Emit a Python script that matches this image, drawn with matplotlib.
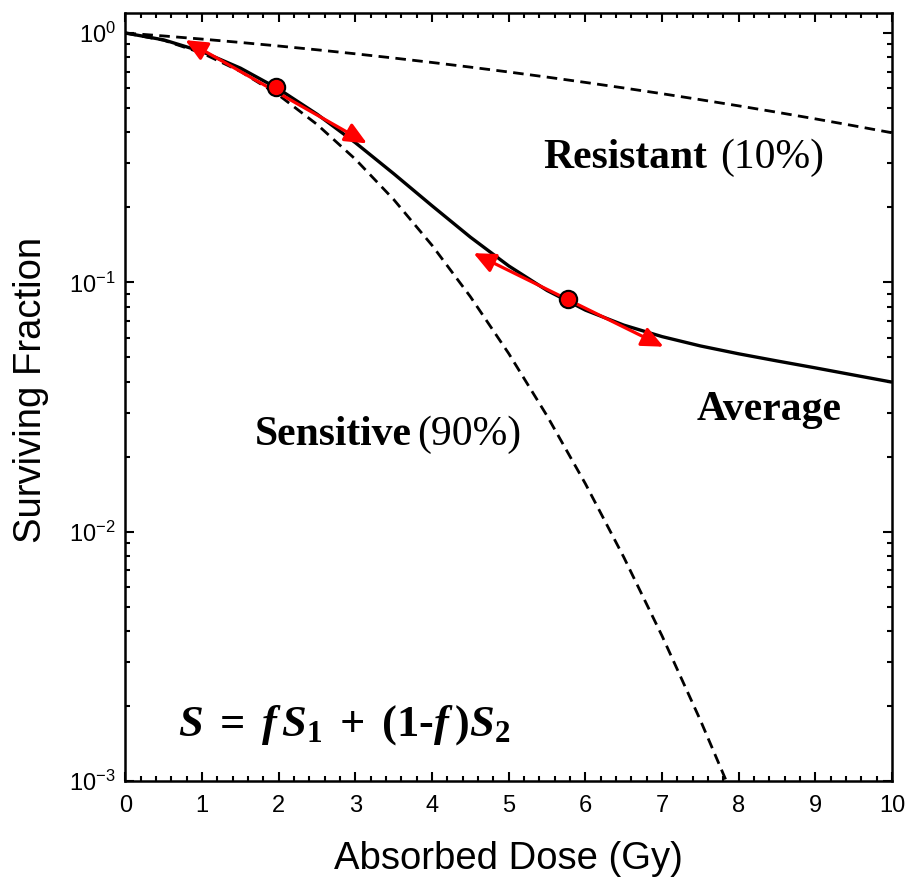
import numpy as np
import matplotlib
matplotlib.use("Agg")
import matplotlib.pyplot as plt
from matplotlib.ticker import MultipleLocator, LogLocator, NullFormatter

plt.rcParams["font.family"] = ["Liberation Sans", "DejaVu Sans"]
plt.rcParams["axes.unicode_minus"] = False
plt.rcParams["xtick.labelsize"] = 17
plt.rcParams["ytick.labelsize"] = 17
plt.rcParams["mathtext.fontset"] = "custom"
plt.rcParams["mathtext.rm"] = "Liberation Serif:bold"
plt.rcParams["mathtext.bf"] = "Liberation Serif:bold"
plt.rcParams["mathtext.it"] = "Liberation Serif:italic:bold"
plt.rcParams["mathtext.bfit"] = "Liberation Serif:italic:bold"

# dose grid (Gy) and surviving fractions
dose = [0.0, 0.5, 1.0, 1.5, 2.0, 2.5, 3.0, 3.5, 4.0, 4.5, 5.0,
        5.5, 6.0, 6.5, 7.0, 7.5, 8.0, 8.5, 9.0, 9.5, 10.0]
resistant = [1.0, 0.9735, 0.9457, 0.9169, 0.8872, 0.8567, 0.8256, 0.7940,
             0.7621, 0.7300, 0.6979, 0.6658, 0.6339, 0.6023, 0.5712,
             0.5405, 0.5105, 0.4812, 0.4527, 0.4249, 0.3981]
sens_dose = [0.0, 0.5, 1.0, 1.5, 2.0, 2.5, 3.0, 3.5, 4.0,
             4.5, 5.0, 5.5, 6.0, 6.5, 7.0, 7.5, 8.0]
sensitive = [1.0, 0.9350, 0.8309, 0.7018, 0.5634, 0.4298, 0.3117, 0.2148,
             0.1407, 0.08757, 0.05182, 0.02914, 0.01557, 0.00791,
             0.003819, 0.001753, 0.000764]
average = [1.0, 0.9389, 0.8424, 0.7233, 0.5958, 0.4725, 0.3631, 0.2727,
           0.2028, 0.1518, 0.1164, 0.0928, 0.0774, 0.0674, 0.0606,
           0.0556, 0.0517, 0.0484, 0.0454, 0.0425, 0.0398]

# tangent points on the average curve and the arrow ends around them
point_dose = [1.96, 5.77]
point_sf = [0.605, 0.0855]
arrow_start = [(0.78, 0.937), (4.54, 0.131)]
arrow_end = [(3.15, 0.361), (7.02, 0.0552)]

fig = plt.figure(figsize=(9.08, 8.82), dpi=100)
ax = fig.add_axes([0.1382, 0.1145, 0.8442, 0.8704])

ax.plot(dose, resistant, color="black", lw=2.0, dashes=(3.8, 2.3))
ax.plot(sens_dose, sensitive, color="black", lw=2.0, dashes=(3.8, 2.3))
ax.plot(dose, average, color="black", lw=2.4, solid_capstyle="butt")

for (x0, y0), (x1, y1) in zip(arrow_start, arrow_end):
    ax.annotate("", xy=(x1, y1), xytext=(x0, y0),
                arrowprops=dict(arrowstyle="<|-|>,head_length=0.6,head_width=0.27",
                                color="red", lw=2.3, shrinkA=0, shrinkB=0,
                                mutation_scale=22))
ax.plot(point_dose, point_sf, "o", ms=12.5, mfc="red", mec="black",
        mew=1.5, zorder=5)

ax.set_yscale("log")
ax.set_xlim(0, 10)
ax.set_ylim(1e-3, 1.2)
ax.xaxis.set_major_locator(MultipleLocator(1))
ax.xaxis.set_minor_locator(MultipleLocator(0.2))
ax.yaxis.set_major_locator(LogLocator(base=10, numticks=10))
ax.yaxis.set_minor_locator(LogLocator(base=10, subs=np.arange(2, 10), numticks=20))
ax.yaxis.set_minor_formatter(NullFormatter())

for s in ax.spines.values():
    s.set_linewidth(1.8)
ax.tick_params(which="both", direction="in", top=True, right=True, width=1.5)
ax.tick_params(which="major", length=6.5)
ax.tick_params(axis="x", which="major", pad=10)
ax.tick_params(axis="y", which="major", pad=7)
ax.tick_params(which="minor", length=3.5)

ax.set_xlabel("Absorbed Dose (Gy)", fontsize=27.5)
ax.set_ylabel("Surviving Fraction", fontsize=27.5)
ax.xaxis.set_label_coords(0.5, -0.078)
ax.yaxis.set_label_coords(-0.10, 0.51)

serif = "Liberation Serif"
ax.text(5.446, 0.2874, "Resistant", fontsize=30, family=serif,
        weight="bold", va="baseline")
ax.text(7.754, 0.2874, "(10%)", fontsize=30, family=serif, va="baseline")
ax.text(1.689, 0.02225, "Sensitive", fontsize=30, family=serif,
        weight="bold", va="baseline")
ax.text(3.802, 0.02225, "(90%)", fontsize=30, family=serif, va="baseline")
ax.text(7.454, 0.02804, "Average", fontsize=30, family=serif,
        weight="bold", va="baseline")
ax.text(0.685, 0.001528,
        r"$\mathbfit{S}\;=\;\mathbfit{f}\,\mathbfit{S}_{\mathbf{1}}\;+\;(\mathbf{1}$-$\mathbfit{f}\,)\mathbfit{S}_{\mathbf{2}}$",
        fontsize=32, va="baseline", family=serif, weight="bold")

fig.savefig("out.png", dpi=100)
